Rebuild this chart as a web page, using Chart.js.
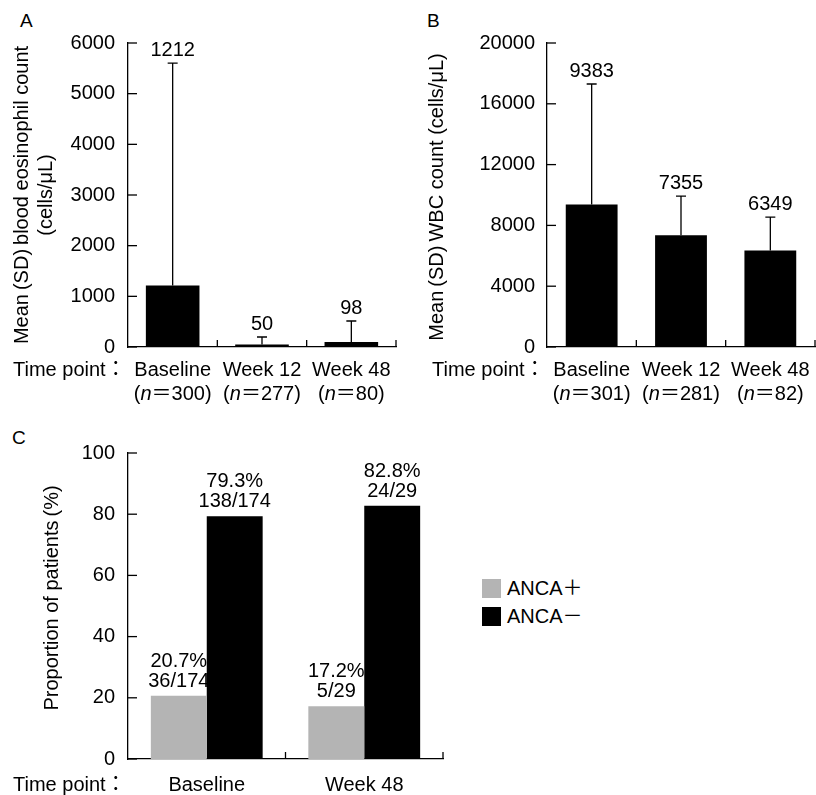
<!DOCTYPE html>
<html>
<head>
<meta charset="utf-8">
<script src="https://cdn.jsdelivr.net/npm/chart.js@4.4.0/dist/chart.umd.min.js"></script>
<style>
  body { margin: 0; background: #fff; }
  #page { position: relative; width: 816px; height: 795px; font-family: 'Liberation Sans', 'Noto Sans CJK JP', sans-serif; color: #000; }
  .box { position: absolute; }
  .letter { position: absolute; font-size: 19px; line-height: 1; }
  #legend { position: absolute; left: 482px; top: 579px; font-size: 20px; }
  #legend .row { height: 28px; line-height: 19px; white-space: nowrap; }
  #legend .sw { display: inline-block; width: 19px; height: 19px; vertical-align: top; margin-right: 6px; }
</style>
</head>
<body>
<div id="page">
  <div class="letter" style="left:20px;top:11px">A</div>
  <div class="letter" style="left:427px;top:11px">B</div>
  <div class="letter" style="left:12px;top:428px">C</div>
  <div class="box" style="left:0;top:0;width:410px;height:412px"><canvas id="chartA"></canvas></div>
  <div class="box" style="left:410px;top:0;width:406px;height:412px"><canvas id="chartB"></canvas></div>
  <div class="box" style="left:0;top:412px;width:460px;height:383px"><canvas id="chartC"></canvas></div>
  <div id="legend"></div>
</div>
<script>
// panel A: blood eosinophils
var timePointsAB = ['Baseline', 'Week 12', 'Week 48'];
var nA = [300, 277, 80];
var eosMean = [1212, 50, 98];
var eosSD = [4390, 147, 415];

// panel B: WBC
var nB = [301, 281, 82];
var wbcMean = [9383, 7355, 6349];
var wbcSD = [7920, 2575, 2200];

// panel C: ANCA status
var timePointsC = ['Baseline', 'Week 48'];
var ancaPos = [20.7, 17.2];
var ancaNeg = [79.3, 82.8];
var ancaPosCounts = ['36/174', '5/29'];
var ancaNegCounts = ['138/174', '24/29'];

var FONT = "'Liberation Sans', 'Noto Sans CJK JP', sans-serif";
var TS = '\u2009'; // thin space around brackets

function drawN(ctx, cx, y, num) {
  var parts = [[TS + '(', false], ['n', true], ['＝' + num + ')' + TS, false]];
  var w = 0;
  parts.forEach(function(p) {
    ctx.font = (p[1] ? 'italic ' : '') + '20px ' + FONT;
    p.push(ctx.measureText(p[0]).width);
    w += p[2];
  });
  var x = cx - w / 2;
  ctx.textAlign = 'left';
  parts.forEach(function(p) {
    ctx.font = (p[1] ? 'italic ' : '') + '20px ' + FONT;
    ctx.fillText(p[0], x, y);
    x += p[2];
  });
  ctx.textAlign = 'center';
  ctx.font = '20px ' + FONT;
}

// inward tick marks + category labels
var axisMarks = {
  id: 'axisMarks',
  afterDraw: function(chart, args, opts) {
    var ctx = chart.ctx, x = chart.scales.x, y = chart.scales.y, area = chart.chartArea;
    var nCat = chart.data.labels.length;
    ctx.save();
    ctx.strokeStyle = '#000';
    ctx.lineWidth = 1.3;
    y.ticks.forEach(function(t) {
      var py = y.getPixelForValue(t.value);
      ctx.beginPath(); ctx.moveTo(area.left, py); ctx.lineTo(area.left + 9, py); ctx.stroke();
    });
    for (var i = 0; i < nCat; i++) {
      var px = i < nCat - 1 ? (x.getPixelForValue(i) + x.getPixelForValue(i + 1)) / 2 : area.right;
      ctx.beginPath(); ctx.moveTo(px, area.bottom); ctx.lineTo(px, area.bottom - 7); ctx.stroke();
    }
    ctx.fillStyle = '#000';
    ctx.font = '20px ' + FONT;
    ctx.textBaseline = 'middle';
    ctx.textAlign = 'left';
    ctx.fillText('Time point：', area.left - 115, area.bottom + opts.labelY);
    ctx.textAlign = 'center';
    chart.data.labels.forEach(function(lab, i) {
      var px = x.getPixelForValue(i);
      ctx.fillText(lab, px, area.bottom + opts.labelY);
      if (opts.n) drawN(ctx, px, area.bottom + opts.labelY + 24, opts.n[i]);
    });
    ctx.restore();
  }
};

// upper SD whiskers with mean labels
var errorBars = {
  id: 'errorBars',
  afterDatasetsDraw: function(chart, args, opts) {
    if (!opts.sd) return;
    var ctx = chart.ctx, y = chart.scales.y, meta = chart.getDatasetMeta(0);
    var vals = chart.data.datasets[0].data;
    ctx.save();
    ctx.strokeStyle = '#000';
    ctx.lineWidth = 1.3;
    ctx.fillStyle = '#000';
    ctx.font = '20px ' + FONT;
    ctx.textAlign = 'center';
    ctx.textBaseline = 'alphabetic';
    meta.data.forEach(function(bar, i) {
      var top = y.getPixelForValue(vals[i] + opts.sd[i]);
      ctx.beginPath();
      ctx.moveTo(bar.x, bar.y); ctx.lineTo(bar.x, top);
      ctx.moveTo(bar.x - 5, top); ctx.lineTo(bar.x + 5, top);
      ctx.stroke();
      ctx.fillText(String(vals[i]), bar.x, top - 7);
    });
    ctx.restore();
  }
};

// two-line labels above grouped bars
var barText = {
  id: 'barText',
  afterDatasetsDraw: function(chart, args, opts) {
    if (!opts.counts) return;
    var ctx = chart.ctx;
    ctx.save();
    ctx.fillStyle = '#000';
    ctx.font = '20px ' + FONT;
    ctx.textAlign = 'center';
    ctx.textBaseline = 'alphabetic';
    chart.data.datasets.forEach(function(ds, d) {
      chart.getDatasetMeta(d).data.forEach(function(bar, i) {
        ctx.fillText(ds.data[i].toFixed(1) + '%', bar.x, bar.y - 29);
        ctx.fillText(opts.counts[d][i], bar.x, bar.y - 9);
      });
    });
    ctx.restore();
  }
};

Chart.register(axisMarks, errorBars, barText);

function yAxis(max, step, title, titlePad, width, tickPad) {
  return {
    min: 0, max: max,
    ticks: { stepSize: step, color: '#000', font: { size: 20, family: FONT }, padding: tickPad,
             callback: function(v) { return String(v); } },
    grid: { display: false, drawTicks: false },
    border: { display: true, color: '#000', width: 1.3 },
    title: { display: true, text: title, color: '#000', font: { size: 20, family: FONT, lineHeight: 1.2 }, padding: { top: titlePad, bottom: 0 } },
    afterFit: function(s) { s.width = width; }
  };
}

function xAxis(height) {
  return {
    grid: { display: false, drawTicks: false },
    ticks: { display: false },
    border: { display: true, color: '#000', width: 1.3 },
    afterFit: function(s) { s.height = height; }
  };
}

function baseOptions(pad, scales, plugins) {
  plugins.legend = { display: false };
  plugins.tooltip = { enabled: false };
  return {
    responsive: true,
    maintainAspectRatio: false,
    animation: false,
    layout: { padding: pad },
    scales: scales,
    plugins: plugins
  };
}

new Chart(document.getElementById('chartA'), {
  type: 'bar',
  data: {
    labels: timePointsAB,
    datasets: [{ data: eosMean, backgroundColor: '#000', borderWidth: 0, barPercentage: 0.6, categoryPercentage: 1 }]
  },
  options: baseOptions({ top: 43, right: 14, left: 0, bottom: 0 }, {
    x: xAxis(65),
    y: yAxis(6000, 1000, ['Mean' + TS + '(SD)' + TS + 'blood eosinophil count', TS + '(cells/μL)' + TS], 10, 128, 13)
  }, {
    axisMarks: { labelY: 23, n: nA },
    errorBars: { sd: eosSD }
  })
});

new Chart(document.getElementById('chartB'), {
  type: 'bar',
  data: {
    labels: timePointsAB,
    datasets: [{ data: wbcMean, backgroundColor: '#000', borderWidth: 0, barPercentage: 0.58, categoryPercentage: 1 }]
  },
  options: baseOptions({ top: 43, right: 1, left: 0, bottom: 0 }, {
    x: xAxis(65),
    y: yAxis(20000, 4000, 'Mean' + TS + '(SD)' + TS + 'WBC count ' + '(cells/μL)' + TS, 15, 137, 12)
  }, {
    axisMarks: { labelY: 23, n: nB },
    errorBars: { sd: wbcSD }
  })
});

var chartC = new Chart(document.getElementById('chartC'), {
  type: 'bar',
  data: {
    labels: timePointsC,
    datasets: [
      { label: 'ANCA＋', data: ancaPos, backgroundColor: '#b4b4b4', borderWidth: 0, barPercentage: 1, categoryPercentage: 0.71 },
      { label: 'ANCA－', data: ancaNeg, backgroundColor: '#000', borderWidth: 0, barPercentage: 1, categoryPercentage: 0.71 }
    ]
  },
  options: baseOptions({ top: 41, right: 17, left: 0, bottom: 0 }, {
    x: xAxis(36),
    y: yAxis(100, 20, '\u3000Proportion of patients' + TS + '(%)' + TS, 40, 128, 13)
  }, {
    axisMarks: { labelY: 26 },
    barText: { counts: [ancaPosCounts, ancaNegCounts] }
  })
});

// legend for panel C
var legend = document.getElementById('legend');
chartC.data.datasets.forEach(function(ds) {
  var row = document.createElement('div');
  row.className = 'row';
  var sw = document.createElement('span');
  sw.className = 'sw';
  sw.style.background = ds.backgroundColor;
  row.appendChild(sw);
  row.appendChild(document.createTextNode(ds.label));
  legend.appendChild(row);
});
</script>
</body>
</html>
